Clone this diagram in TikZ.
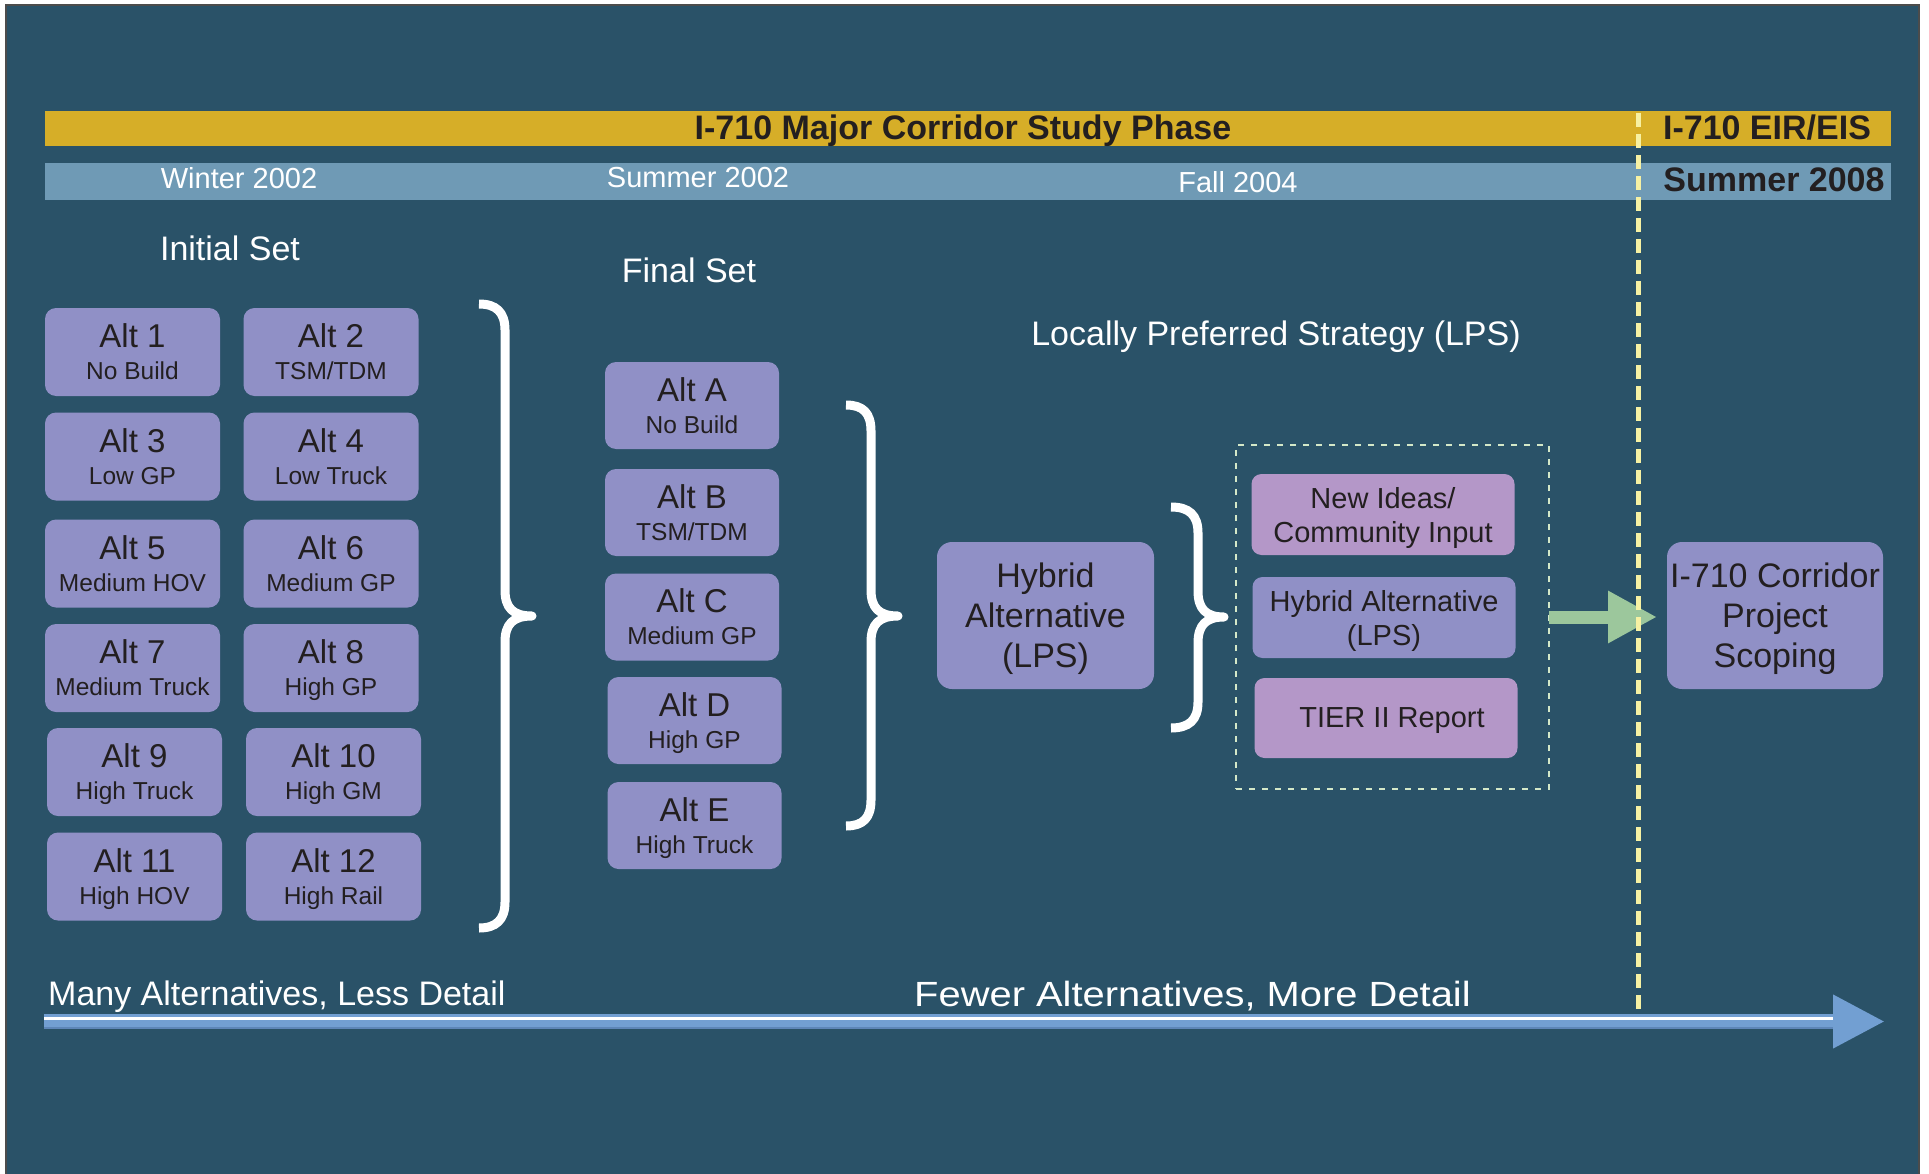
\documentclass[tikz,border=0pt]{standalone}
\usepackage{fontspec}
\setmainfont{Liberation Sans}
\usetikzlibrary{arrows.meta}

\definecolor{bgteal}{HTML}{2A5268}
\definecolor{bargold}{HTML}{D6AE28}
\definecolor{barblue}{HTML}{6F9AB5}
\definecolor{altfill}{HTML}{9090C6}
\definecolor{pinkfill}{HTML}{B497C8}
\definecolor{inkdark}{HTML}{231F20}
\definecolor{lineyellow}{HTML}{F7F1A3}
\definecolor{boxgreen}{HTML}{D4E8C8}
\definecolor{arrowgreen}{HTML}{9CC79C}
\definecolor{timeblue}{HTML}{729FD2}
\definecolor{timedark}{HTML}{5D86B8}

\newcommand{\altsub}[1]{{\fontsize{24.5}{24.5}\selectfont #1}}

\tikzset{
    altbox/.style={rectangle, rounded corners=11pt, fill=altfill, text=inkdark, minimum width=175pt, minimum height=88pt, inner sep=0pt, outer sep=0pt, align=center, text depth=0pt, font=\fontsize{33}{32}\selectfont},
    finalbox/.style={altbox, minimum width=174pt, minimum height=87pt},
    bigbox/.style={altbox, rounded corners=15pt, minimum width=217pt, minimum height=147pt, font=\fontsize{34}{40}\selectfont},
    lpsitem/.style={altbox, rounded corners=10pt, minimum width=263pt, minimum height=81pt, font=\fontsize{29}{34}\selectfont},
    heading/.style={text=white, font=\fontsize{34}{34}\selectfont, inner sep=0pt, anchor=base},
    datelabel/.style={text=white, font=\fontsize{29}{29}\selectfont, inner sep=0pt, anchor=base},
    barlabel/.style={text=inkdark, font=\bfseries\fontsize{34}{34}\selectfont, inner sep=0pt, anchor=base},
    bracket/.style={draw=white, line width=9pt, line join=round},
    dashframe/.style={draw=boxgreen, line width=2.7pt, dash pattern=on 6pt off 7pt, minimum width=313pt, minimum height=344pt, inner sep=0pt, outer sep=0pt},
    splitline/.style={draw=lineyellow, line width=4.5pt, dash pattern=on 14pt off 7pt},
    lpsarrow/.style={draw=arrowgreen, line width=13pt, -{Triangle[length=49pt,width=49pt]}, shorten >=10pt},
    timeline/.style={draw=timeblue, line width=15pt, -{Triangle[length=52pt,width=50pt]}}
}

\begin{document}
\begin{tikzpicture}[x=1pt, y=-1pt]
    \useasboundingbox (0,0) rectangle (1929,1174);

    % Background
    \fill[white] (0,0) rectangle (1929,1174);
    \filldraw[fill=bgteal, draw=gray!60!black, line width=1.5pt] (6,5) rectangle (1919,1178);

    % Phase and date bars
    \fill[bargold] (45,111) rectangle (1891,146);
    \fill[barblue] (45,163) rectangle (1891,200);
    \node[barlabel] (phase) at (963,140) {I-710 Major Corridor Study Phase};
    \node[barlabel] (eir) at (1767,140) {I-710 EIR/EIS};
    \node[datelabel] (winter) at (239,189) {Winter 2002};
    \node[datelabel] (summer) at (698,188) {Summer 2002};
    \node[datelabel] (fall) at (1238,193) {Fall 2004};
    \node[barlabel] (summerlate) at (1774,192) {Summer 2008};

    % Headings
    \node[heading] (initial) at (230,261) {Initial Set};
    \node[heading] (final) at (689,282) {Final Set};
    \node[heading] (lpshead) at (1276,345) {Locally Preferred Strategy (LPS)};

    % Initial set
    \node[altbox] (alt1) at (132.5,352) {Alt 1\\\altsub{No Build}};
    \node[altbox] (alt2) at (331,352) {Alt 2\\\altsub{TSM/TDM}};
    \node[altbox] (alt3) at (132.5,456.5) {Alt 3\\\altsub{Low GP}};
    \node[altbox] (alt4) at (331,456.5) {Alt 4\\\altsub{Low Truck}};
    \node[altbox] (alt5) at (132.5,563.5) {Alt 5\\\altsub{Medium HOV}};
    \node[altbox] (alt6) at (331,563.5) {Alt 6\\\altsub{Medium GP}};
    \node[altbox] (alt7) at (132.5,668) {Alt 7\\\altsub{Medium Truck}};
    \node[altbox] (alt8) at (331,668) {Alt 8\\\altsub{High GP}};
    \node[altbox] (alt9) at (134.5,772) {Alt 9\\\altsub{High Truck}};
    \node[altbox] (alt10) at (333.5,772) {Alt 10\\\altsub{High GM}};
    \node[altbox] (alt11) at (134.5,876.5) {Alt 11\\\altsub{High HOV}};
    \node[altbox] (alt12) at (333.5,876.5) {Alt 12\\\altsub{High Rail}};

    % Final set
    \node[finalbox] (altA) at (692,405.5) {Alt A\\\altsub{No Build}};
    \node[finalbox] (altB) at (692,512.5) {Alt B\\\altsub{TSM/TDM}};
    \node[finalbox] (altC) at (692,617) {Alt C\\\altsub{Medium GP}};
    \node[finalbox] (altD) at (694.5,720.5) {Alt D\\\altsub{High GP}};
    \node[finalbox] (altE) at (694.5,825.5) {Alt E\\\altsub{High Truck}};

    % Hybrid alternative
    \node[bigbox] (hybrid) at (1045.5,615.5) {Hybrid\\Alternative\\(LPS)};

    % LPS group
    \node[dashframe] (lpsbox) at (1392.5,617) {};
    \node[lpsitem, fill=pinkfill] (ideas) at (1383,514.5) {New Ideas/\\Community Input};
    \node[lpsitem] (hybridlps) at (1384,617.5) {Hybrid Alternative\\(LPS)};
    \node[lpsitem, fill=pinkfill, minimum height=80pt] (tier) at (1386,718) {\hspace*{12pt}TIER II Report};

    % Project scoping
    \node[bigbox, minimum width=216pt] (scoping) at (1775,615.5) {I-710 Corridor\\Project\\Scoping};

    % Brackets
    \draw[bracket] (479,304) .. controls (496,304) and (505,312) .. (505,330) -- (505,590)
        .. controls (505,608) and (513,616) .. (532,616)
        .. controls (513,616) and (505,624) .. (505,642) -- (505,902)
        .. controls (505,920) and (496,928) .. (479,928);
    \draw[bracket] (846,405) .. controls (863,405) and (871,413) .. (871,431) -- (871,590)
        .. controls (871,608) and (879,616) .. (898,616)
        .. controls (879,616) and (871,624) .. (871,642) -- (871,800)
        .. controls (871,818) and (863,826) .. (846,826);
    \draw[bracket] (1171,507) .. controls (1189,507) and (1198,515) .. (1198,533) -- (1198,591)
        .. controls (1198,609) and (1206,617) .. (1224,617)
        .. controls (1206,617) and (1198,625) .. (1198,643) -- (1198,702)
        .. controls (1198,720) and (1189,728) .. (1171,728);

    % Arrow to scoping
    \draw[lpsarrow] (lpsbox.east) -- (lpsbox.east -| scoping.west);

    % Timeline
    \coordinate (tstart) at (44,1021.5);
    \coordinate (tend) at (1885,1021.5);
    \draw[timeline] (tstart) -- (tend);
    \draw[white, line width=2.5pt] ([yshift=3pt]tstart) -- ([yshift=3pt, xshift=-52pt]tend);
    \draw[timedark, line width=2pt] ([yshift=-6.5pt]tstart) -- ([yshift=-6.5pt, xshift=-52pt]tend);
    \node[heading, anchor=base west] (many) at (48,1005) {Many Alternatives, Less Detail};
    \node[heading, anchor=base west, font=\fontsize{35}{35}\selectfont] (fewer) at (914,1006) {\scalebox{1.14}[1]{Fewer Alternatives, More Detail}};

    % Phase split
    \coordinate (splittop) at (1638.5,113);
    \coordinate (splitbot) at (1638.5,1011);
    \draw[splitline] (splittop) -- (splitbot);

\end{tikzpicture}
\end{document}
